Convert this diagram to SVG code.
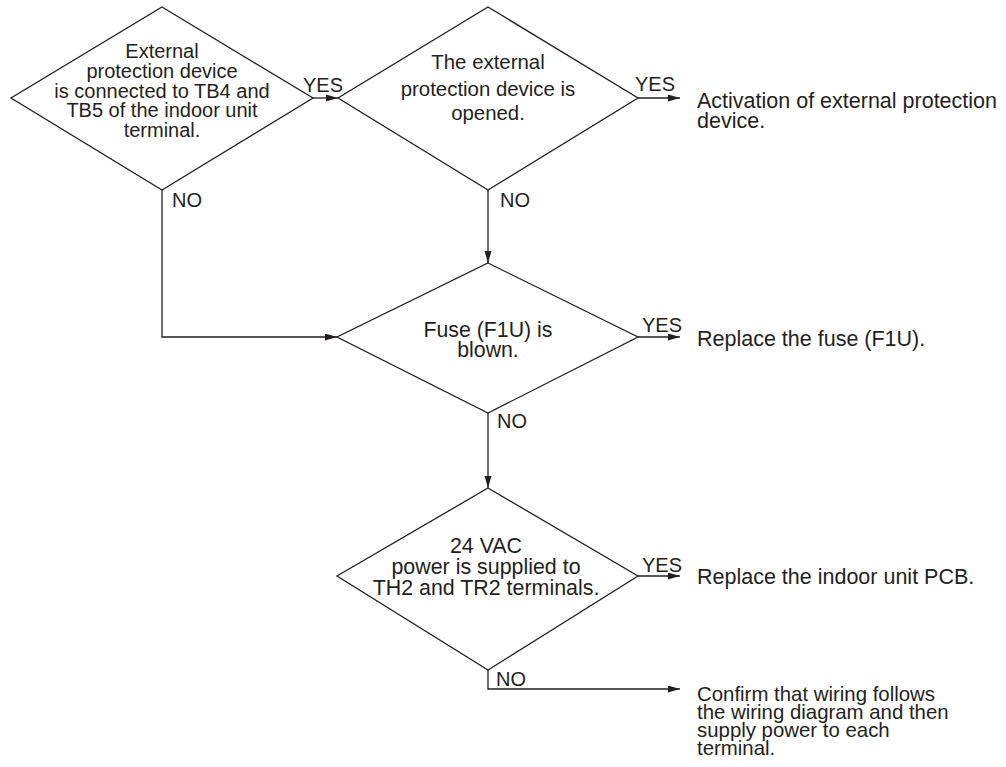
<svg xmlns="http://www.w3.org/2000/svg" width="1006" height="767" viewBox="0 0 1006 767">
<style>
text{font-family:"Liberation Sans",Arial,Helvetica,sans-serif;font-size:20px;fill:#231f20}
.c{text-anchor:middle}
.d{fill:#fff;stroke:#231f20;stroke-width:1.3}
.e{fill:none;stroke:#231f20;stroke-width:1.3}
.big{font-size:21.5px}
.n2{font-size:20.4px}
.n3{font-size:21.3px}
.n4{font-size:21.4px}
.r4{font-size:20.4px}
</style>
<defs>
<marker id="ah" markerUnits="userSpaceOnUse" markerWidth="13" markerHeight="8" refX="12" refY="3.5" orient="auto">
<path d="M0,0 L12,3.5 L0,7 z" fill="#231f20"/>
</marker>
</defs>
<rect width="1006" height="767" fill="#fff"/>
<g id="connectors">
<path class="e" d="M313,98 H338" marker-end="url(#ah)"/>
<path class="e" d="M638,98 H680" marker-end="url(#ah)"/>
<path class="e" d="M162,190 V337 H337" marker-end="url(#ah)"/>
<path class="e" d="M488,190 V263" marker-end="url(#ah)"/>
<path class="e" d="M638,337 H680" marker-end="url(#ah)"/>
<path class="e" d="M488,413 V488" marker-end="url(#ah)"/>
<path class="e" d="M638,576 H680" marker-end="url(#ah)"/>
<path class="e" d="M488,670 V689 H680" marker-end="url(#ah)"/>
<text x="303" y="92">YES</text>
<text x="635" y="91">YES</text>
<text x="172" y="207">NO</text>
<text x="500" y="207">NO</text>
<text x="642" y="332">YES</text>
<text x="497" y="428">NO</text>
<text x="642" y="572">YES</text>
<text x="496" y="686">NO</text>
</g>
<g id="n1">
<polygon class="d" points="162,7 313,98 162,190 11,98"/>
<text class="c" x="162" y="58">External</text>
<text class="c" x="162" y="78">protection device</text>
<text class="c" x="162" y="98">is connected to TB4 and</text>
<text class="c" x="162" y="117">TB5 of the indoor unit</text>
<text class="c" x="162" y="137">terminal.</text>
</g>
<g id="n2">
<polygon class="d" points="488,7 638,98 488,190 338,98"/>
<text class="c n2" x="488" y="69">The external</text>
<text class="c n2" x="488" y="96">protection device is</text>
<text class="c n2" x="488" y="120">opened.</text>
</g>
<g id="n3">
<polygon class="d" points="488,263 638,337 488,413 337,337"/>
<text class="c n3" x="488" y="337">Fuse (F1U) is</text>
<text class="c n3" x="488" y="357">blown.</text>
</g>
<g id="n4">
<polygon class="d" points="488,488 638,576 488,670 337,576"/>
<text class="c n4" x="486" y="553">24 VAC</text>
<text class="c n4" x="486" y="574">power is supplied to</text>
<text class="c n4" x="486" y="595">TH2 and TR2 terminals.</text>
</g>
<g id="r1">
<text class="big" x="697" y="108">Activation of external protection</text>
<text class="big" x="697" y="128">device.</text>
</g>
<g id="r2">
<text class="big" x="697" y="346">Replace the fuse (F1U).</text>
</g>
<g id="r3">
<text class="big" x="697" y="584">Replace the indoor unit PCB.</text>
</g>
<g id="r4">
<text class="r4" x="697" y="701">Confirm that wiring follows</text>
<text class="r4" x="697" y="719">the wiring diagram and then</text>
<text class="r4" x="697" y="737">supply power to each</text>
<text class="r4" x="697" y="755">terminal.</text>
</g>
</svg>
